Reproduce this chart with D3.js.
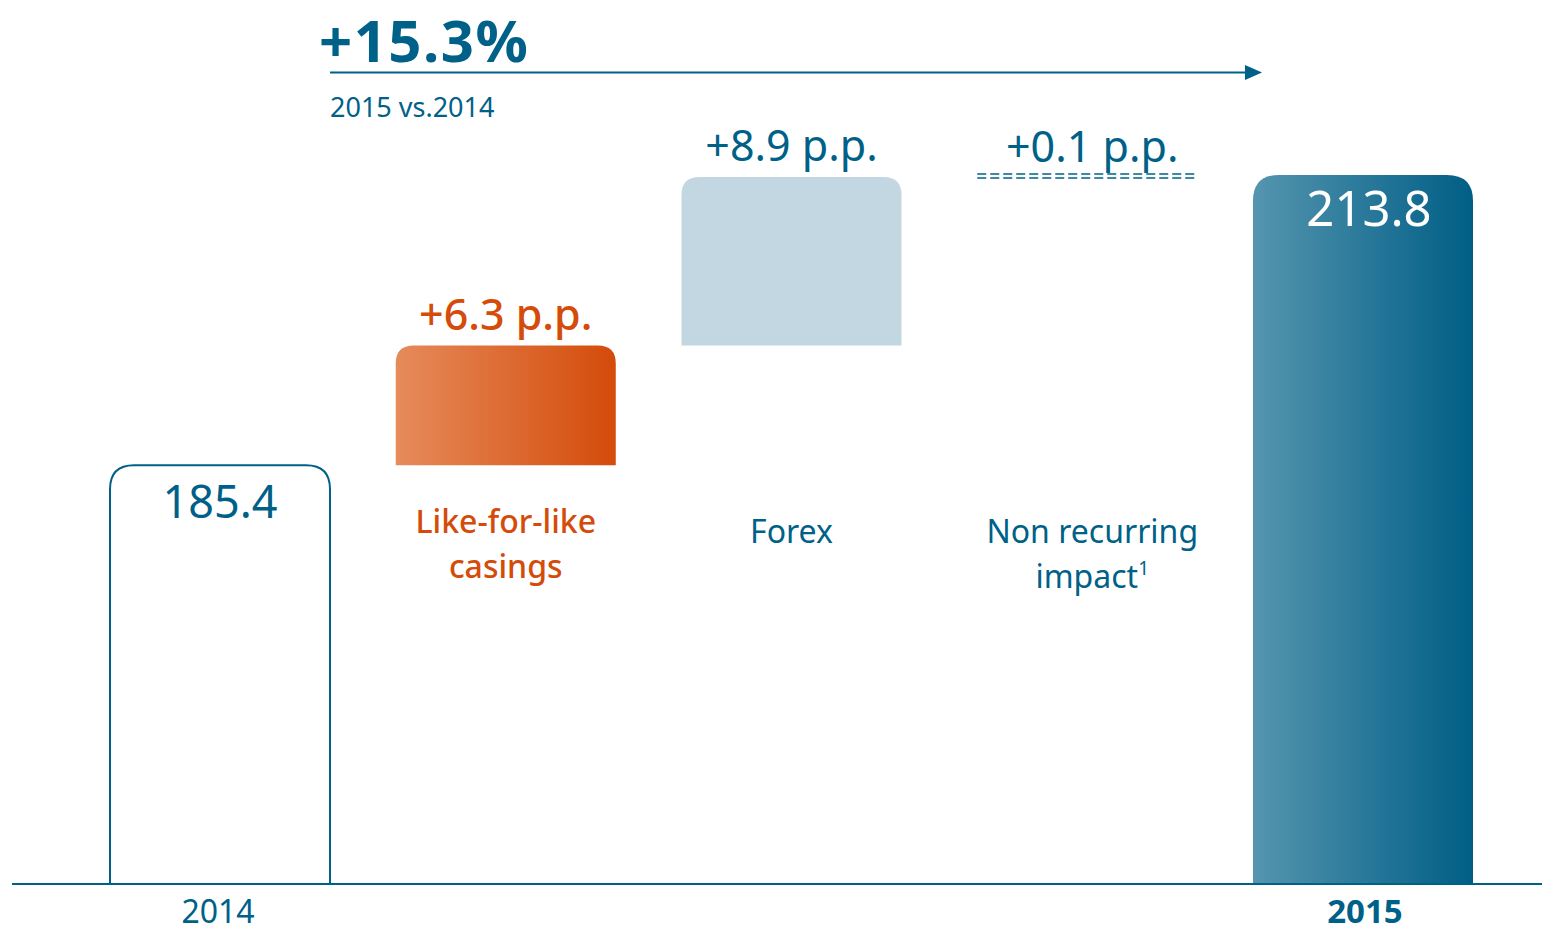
<!DOCTYPE html>
<html>
<head>
<meta charset="utf-8">
<script src="https://cdn.jsdelivr.net/npm/d3@7"></script>
<style>
  html, body { margin: 0; padding: 0; background: #ffffff; }
  svg { display: block; font-family: "Noto Sans", "Open Sans", sans-serif; }
</style>
</head>
<body>
<svg id="chart" width="1542" height="933"></svg>
<script>
// Net sales bridge 2014 → 2015 (€ million)
const categories = ["2014", "Like-for-like casings", "Forex", "Non recurring impact", "2015"];
const labelLines = [["2014"], ["Like-for-like", "casings"], ["Forex"], ["Non recurring", "impact"], ["2015"]];
const kinds = ["total", "delta", "delta", "delta", "total"];
const values = [185.4, 11.7, 16.5, 0.2, 213.8];     // totals and absolute steps
const stepLabels = ["185.4", "+6.3 p.p.", "+8.9 p.p.", "+0.1 p.p.", "213.8"];
const growthLabel = "+15.3%";
const growthSub = "2015 vs.2014";

const blue = "#006188";
const orange = "#d44b0a";

const svg = d3.select("#chart");
const defs = svg.append("defs");

// Horizontal gradients for the filled bars
function hGrad(id, from, to) {
  const g = defs.append("linearGradient").attr("id", id)
    .attr("x1", "0%").attr("x2", "100%").attr("y1", "0%").attr("y2", "0%");
  g.append("stop").attr("offset", "0%").attr("stop-color", from);
  g.append("stop").attr("offset", "100%").attr("stop-color", to);
}
hGrad("gOrange", "#e68b5b", "#d44b0a");
hGrad("gBlue", "#5595af", "#005e86");

// Cumulative start/end of each step
let run = 0;
const bars = categories.map((c, i) => {
  let y0, y1;
  if (kinds[i] === "total") { y0 = null; y1 = values[i]; run = values[i]; }
  else { y0 = run; y1 = run + values[i]; run = y1; }
  return { cat: c, kind: kinds[i], y0, y1, i };
});

const x = d3.scaleBand().domain(categories).range([110, 1473]).paddingInner(0.23).paddingOuter(0);
const y = d3.scaleLinear().domain([144.4, 213.8]).range([884, 175]);
const floor = y.domain()[0];

// Path for a bar with rounded top corners and a square bottom
function topRounded(x0, w, top, bottom, r) {
  r = Math.min(r, (bottom - top), w / 2);
  return `M${x0},${bottom}V${top + r}Q${x0},${top} ${x0 + r},${top}H${x0 + w - r}Q${x0 + w},${top} ${x0 + w},${top + r}V${bottom}Z`;
}

const fills = ["#ffffff", "url(#gOrange)", "#c2d7e1", "none", "url(#gBlue)"];
const radii = [24, 18, 18, 0, 26];

bars.forEach(b => {
  const x0 = x(b.cat), w = x.bandwidth();
  if (b.i === 3) {
    // Tiny step drawn as a double dashed rule
    [y(b.y1), y(b.y0) + 2].forEach(yy => {
      svg.append("line").attr("x1", x0 + 10).attr("x2", x0 + w + 10)
        .attr("y1", yy - 1).attr("y2", yy - 1)
        .attr("stroke", blue).attr("stroke-width", 1.6)
        .attr("stroke-dasharray", "9,4");
    });
    return;
  }
  const top = y(b.y1);
  const bottom = b.kind === "total" ? y(floor) : y(b.y0);
  const p = svg.append("path").attr("d", topRounded(x0, w, top, bottom, radii[b.i]))
    .attr("fill", fills[b.i]);
  if (b.i === 0) p.attr("stroke", blue).attr("stroke-width", 2);
});

// Baseline
svg.append("line").attr("x1", 12).attr("x2", 1542)
  .attr("y1", y(floor)).attr("y2", y(floor))
  .attr("stroke", blue).attr("stroke-width", 2);

// Value labels
const cx = (c, i) => x(c) + x.bandwidth() / 2 + (i === 3 ? 15 : 0);
svg.append("text").attr("x", cx(categories[0])).attr("y", y(values[0]) + 53)
  .attr("text-anchor", "middle").attr("font-size", 45).attr("fill", blue).text(stepLabels[0]);
svg.append("text").attr("x", cx(categories[4]) + 6).attr("y", y(values[4]) + 51)
  .attr("text-anchor", "middle").attr("font-size", 49).attr("fill", "#ffffff").text(stepLabels[4]);
[1, 2, 3].forEach(i => {
  svg.append("text").attr("x", cx(categories[i], i)).attr("y", y(bars[i].y1) - (i === 3 ? 13 : 16))
    .attr("text-anchor", "middle").attr("font-size", 43)
    .attr("fill", i === 1 ? orange : blue)
    .attr("font-weight", i === 1 ? 500 : 400).text(stepLabels[i]);
});

// Category labels under the steps
[1, 2, 3].forEach(i => {
  const lines = labelLines[i];
  const t = svg.append("text").attr("text-anchor", "middle").attr("font-size", 32)
    .attr("fill", i === 1 ? orange : blue)
    .attr("font-weight", i === 1 ? 500 : 400);
  const startY = lines.length === 1 ? 543 : (i === 1 ? 533 : 543);
  lines.forEach((ln, k) => {
    t.append("tspan").attr("x", cx(categories[i], i)).attr("y", startY + k * 45).text(ln);
    if (i === 3 && k === 1) {
      t.append("tspan").attr("font-size", 19).attr("dy", -13).text("1");
    }
  });
});

// Year labels under the axis
svg.append("text").attr("x", cx(categories[0]) - 2).attr("y", 923)
  .attr("text-anchor", "middle").attr("font-size", 32).attr("fill", blue).text(labelLines[0][0]);
svg.append("text").attr("x", cx(categories[4]) + 2).attr("y", 923)
  .attr("text-anchor", "middle").attr("font-size", 33).attr("font-weight", 700)
  .attr("fill", blue).text(labelLines[4][0]);

// Overall growth headline with arrow
svg.append("text").attr("x", 319).attr("y", 62).attr("font-size", 58).attr("font-weight", 700)
  .attr("fill", blue).attr("letter-spacing", 1.5).text(growthLabel);
svg.append("line").attr("x1", 330).attr("x2", 1246).attr("y1", 72.5).attr("y2", 72.5)
  .attr("stroke", blue).attr("stroke-width", 2);
svg.append("path").attr("d", "M1245,65L1262,72.5L1245,80Z").attr("fill", blue);
svg.append("text").attr("x", 330).attr("y", 117).attr("font-size", 27)
  .attr("fill", blue).text(growthSub);
</script>
</body>
</html>
